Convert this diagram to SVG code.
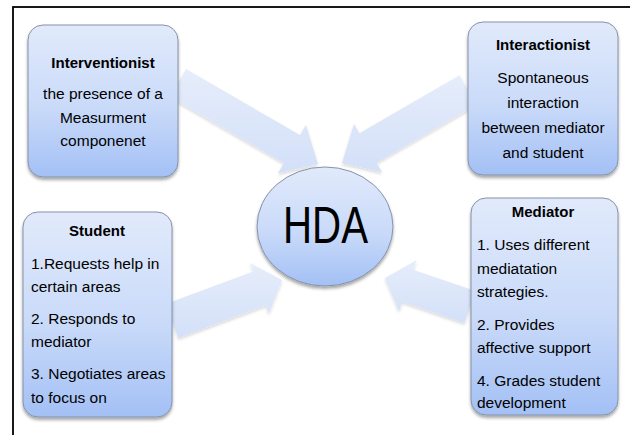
<svg xmlns="http://www.w3.org/2000/svg" width="630" height="435" viewBox="0 0 630 435">
<defs>
<linearGradient id="boxg" x1="0" y1="0" x2="0" y2="1">
<stop offset="0" stop-color="#e1eafb"/>
<stop offset="0.55" stop-color="#c9daf9"/>
<stop offset="1" stop-color="#a3c0f5"/>
</linearGradient>
<linearGradient id="arrg" x1="0" y1="0" x2="0" y2="1">
<stop offset="0" stop-color="#e6edfb"/>
<stop offset="1" stop-color="#d3e0f8"/>
</linearGradient>
<filter id="sh" x="-20%" y="-20%" width="140%" height="140%">
<feDropShadow dx="0" dy="2.5" stdDeviation="1.8" flood-color="#000" flood-opacity="0.35"/>
</filter>
<filter id="ash" x="-20%" y="-20%" width="140%" height="140%">
<feDropShadow dx="0" dy="2" stdDeviation="1.5" flood-color="#000" flood-opacity="0.15"/>
</filter>
</defs>
<style>
.box{fill:url(#boxg);stroke:#8592a8;stroke-width:1;filter:url(#sh)}
.arr{fill:url(#arrg);stroke:none;filter:url(#ash)}
.t{font-family:"Liberation Sans",Arial,sans-serif;font-size:15.5px;fill:#000}
.b{font-family:"Liberation Sans",Arial,sans-serif;font-size:15px;font-weight:bold;fill:#000}
.c{text-anchor:middle}
</style>
<rect x="13" y="7" width="640" height="450" fill="#fff" stroke="#000" stroke-width="1.8"/>
<g id="connectors">
<polygon class="arr" points="186,69.1 300,135.1 306,124.8 318,164 278,173.2 284,162.9 170,96.9"/>
<polygon class="arr" points="476.5,104.7 376.5,162.7 382,172.2 342,163 354,123.8 359.4,133.3 459.5,75.3"/>
<polygon class="arr" points="165.7,304.1 253.2,271.5 250.1,263.1 282,280 268.9,313.7 265.8,305.3 178.3,337.9"/>
<polygon class="arr" points="475.5,290.9 413.2,269.7 416.4,260.2 385,278 399,311.3 402.2,301.8 464.5,323.1"/>
</g>
<g id="hda">
<ellipse class="box" cx="325" cy="226.5" rx="68" ry="59.5"/>
<text x="325.5" y="243" font-family="Liberation Sans,Arial,sans-serif" font-size="52" text-anchor="middle" textLength="85" lengthAdjust="spacingAndGlyphs">HDA</text>
</g>
<g id="interventionist">
<rect class="box" x="28" y="25" width="150" height="152" rx="15"/>
<text class="b c" x="103" y="68">Interventionist</text>
<text class="t c" x="103" y="99">the presence of a</text>
<text class="t c" x="103" y="123">Measurment</text>
<text class="t c" x="103" y="146">componenet</text>
</g>
<g id="interactionist">
<rect class="box" x="468" y="22" width="150" height="153" rx="15"/>
<text class="b c" x="543" y="50">Interactionist</text>
<text class="t c" x="543" y="83">Spontaneous</text>
<text class="t c" x="543" y="108">interaction</text>
<text class="t c" x="543" y="133">between mediator</text>
<text class="t c" x="543" y="158">and student</text>
</g>
<g id="student">
<rect class="box" x="23" y="212" width="149" height="205" rx="15"/>
<text class="b c" x="97" y="236">Student</text>
<text class="t" x="31" y="269">1.Requests help in</text>
<text class="t" x="31" y="292">certain areas</text>
<text class="t" x="31" y="324">2. Responds to</text>
<text class="t" x="31" y="347">mediator</text>
<text class="t" x="31" y="379">3. Negotiates areas</text>
<text class="t" x="31" y="403">to focus on</text>
</g>
<g id="mediator">
<rect class="box" x="471" y="198" width="147" height="217" rx="15"/>
<text class="b c" x="543" y="217">Mediator</text>
<text class="t" x="477" y="250">1. Uses different</text>
<text class="t" x="477" y="274">mediatation</text>
<text class="t" x="477" y="297">strategies.</text>
<text class="t" x="477" y="330">2. Provides</text>
<text class="t" x="477" y="353">affective support</text>
<text class="t" x="477" y="386">4. Grades student</text>
<text class="t" x="477" y="408">development</text>
</g>
</svg>
